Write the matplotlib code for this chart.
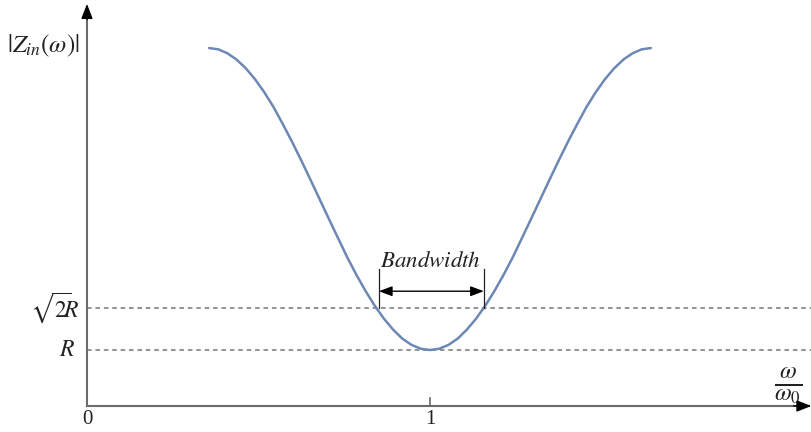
"""Impedance magnitude |Z_in(w)| around resonance, with the bandwidth marked
between the sqrt(2)R crossings."""
import matplotlib
matplotlib.use("Agg")
import matplotlib.pyplot as plt

# normalised frequency w/w0 and curve height (in units of R)
omega = [0.356, 0.383, 0.409, 0.436, 0.463, 0.490, 0.517, 0.544, 0.570, 0.597,
         0.624, 0.651, 0.678, 0.705, 0.732, 0.758, 0.785, 0.812, 0.839, 0.866,
         0.893, 0.919, 0.946, 0.973, 1.000, 1.027, 1.054, 1.081, 1.107, 1.134,
         1.161, 1.188, 1.215, 1.242, 1.268, 1.295, 1.322, 1.349, 1.376, 1.403,
         1.430, 1.456, 1.483, 1.510, 1.537, 1.564, 1.591, 1.617, 1.644]
z_mag = [6.392, 6.369, 6.300, 6.187, 6.031, 5.835, 5.602, 5.337, 5.044, 4.728,
         4.394, 4.048, 3.696, 3.344, 2.998, 2.664, 2.348, 2.055, 1.790, 1.557,
         1.361, 1.205, 1.092, 1.023, 1.000, 1.023, 1.092, 1.205, 1.361, 1.557,
         1.790, 2.055, 2.348, 2.664, 2.998, 3.344, 3.696, 4.048, 4.394, 4.728,
         5.044, 5.337, 5.602, 5.835, 6.031, 6.187, 6.300, 6.369, 6.392]

r_level = 1.0
sqrt2_level = 1.75          # drawn position of sqrt(2)R (not to scale)
band_lo, band_hi = 0.851, 1.157
x_ticks = [0, 1]
x_ticklabels = ["0", "1"]

plt.rcParams["mathtext.fontset"] = "stix"
plt.rcParams["font.family"] = ["Liberation Serif", "DejaVu Serif"]

fig = plt.figure(figsize=(8.12, 4.32), dpi=100)
ax = fig.add_axes([0, 0, 1, 1])
ax.set_xlim(-0.2536, 2.1137)
ax.set_ylim(-0.464, 7.25)
ax.axis("off")

axis_col = "#6b6b6b"
head = dict(arrowstyle="-|>,head_length=0.9,head_width=0.35", color="black",
            lw=1.0, shrinkA=0, shrinkB=0)
# axes: grey shafts, black arrow heads
ax.plot([0, 0], [0, 7.0], color=axis_col, lw=1.5)
ax.annotate("", xy=(0, 7.18), xytext=(0, 6.9), arrowprops=head)
ax.plot([0, 2.08], [0, 0], color=axis_col, lw=1.5)
ax.annotate("", xy=(2.112, 0), xytext=(2.06, 0), arrowprops=head)

# tick at 1 and tick labels
ax.plot([1, 1], [0, 0.15], color=axis_col, lw=1.2)
for xt, lab in zip(x_ticks, x_ticklabels):
    ax.text(xt, -0.08, lab, ha="center", va="top", fontsize=15, color="#222222")

# reference levels
for lvl in (r_level, sqrt2_level):
    ax.plot([0, 2.12], [lvl, lvl], color="#777777", lw=1.1,
            linestyle=(0, (3.0, 2.5)))

ax.text(-0.022, sqrt2_level, r"$\sqrt{2}\!\!R$", ha="right", va="center",
        fontsize=17, color="#222222")
ax.text(-0.035, r_level, r"$R$", ha="right", va="center",
        fontsize=17, color="#222222")
ax.text(-0.02, 6.43, r"$|Z_{in}(\omega)|$", ha="right", va="center",
        fontsize=18, color="#222222")
ax.text(2.045, 0.37, r"$\frac{\omega}{\omega_0}$", ha="center", va="center",
        fontsize=25, color="#222222")

# response curve
ax.plot(omega, z_mag, color="#6d88b4", lw=1.8, solid_capstyle="round")

# bandwidth marker
for xb in (band_lo, band_hi):
    ax.plot([xb, xb], [sqrt2_level, 2.45], color="#222222", lw=0.9)
ax.annotate("", xy=(band_lo, 2.05), xytext=(band_hi, 2.05),
            arrowprops=dict(arrowstyle="<|-|>,head_length=0.8,head_width=0.3",
                            color="black", lw=1.0, shrinkA=0, shrinkB=0))
ax.text(1.0, 2.58, r"$Bandwidth$", ha="center", va="center", fontsize=16.5,
        color="#222222")

fig.savefig("out.png", dpi=100)
